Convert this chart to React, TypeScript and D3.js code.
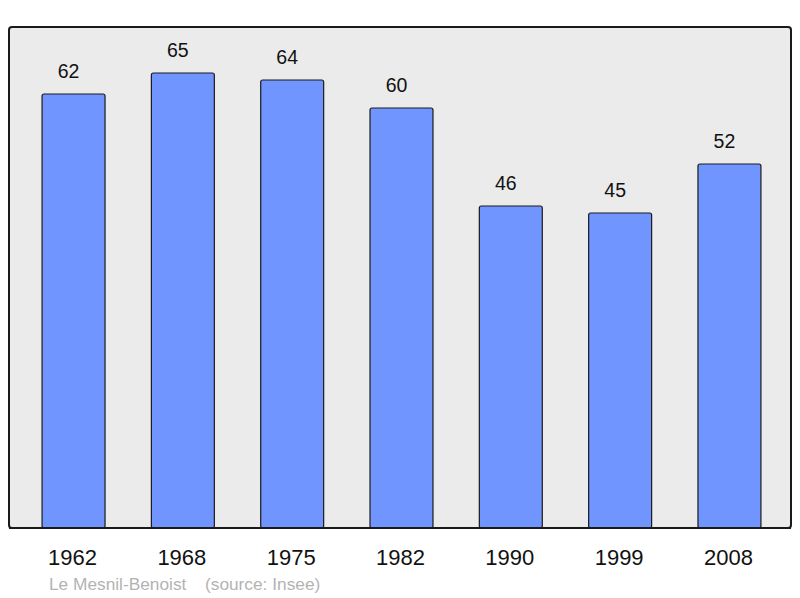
import React, { useRef, useEffect } from 'react';
import * as d3 from 'd3';

const years = ['1962', '1968', '1975', '1982', '1990', '1999', '2008'];
const population = [62, 65, 64, 60, 46, 45, 52];
const placeName = 'Le Mesnil-Benoist';
const sourceNote = '(source: Insee)';

const App = () => {
  const svgRef = useRef<SVGSVGElement>(null);

  useEffect(() => {
    const width = 800;
    const height = 598;
    const plot = { left: 9, right: 791, top: 27, bottom: 528 };

    const svg = d3.select(svgRef.current).attr('width', width).attr('height', height);
    svg.selectAll('*').remove();

    const xScale = d3
      .scaleBand()
      .domain(years)
      .range([12, 791])
      .paddingInner(0.424)
      .paddingOuter(0.275);

    // 7px per inhabitant, baseline at the bottom of the frame
    const yScale = d3
      .scaleLinear()
      .domain([0, (plot.bottom - plot.top) / 7])
      .range([plot.bottom, plot.top]);

    // background frame
    svg
      .append('rect')
      .attr('x', plot.left)
      .attr('y', plot.top)
      .attr('width', plot.right - plot.left)
      .attr('height', plot.bottom - plot.top)
      .attr('rx', 3)
      .attr('fill', '#ebebeb')
      .attr('stroke', '#1a1a1a')
      .attr('stroke-width', 2);

    const rows = years.map((y, i) => ({ year: y, value: population[i] }));

    // bars
    svg
      .append('g')
      .selectAll('rect')
      .data(rows)
      .enter()
      .append('rect')
      .attr('x', (d) => xScale(d.year)!)
      .attr('y', (d) => yScale(d.value))
      .attr('width', xScale.bandwidth())
      .attr('height', (d) => yScale(0) - yScale(d.value))
      .attr('rx', 2)
      .attr('fill', '#7095ff')
      .attr('stroke', '#1a1a1a')
      .attr('stroke-width', 1.2);

    // redraw the bottom border on top of the bars
    svg
      .append('line')
      .attr('x1', plot.left)
      .attr('x2', plot.right)
      .attr('y1', plot.bottom)
      .attr('y2', plot.bottom)
      .attr('stroke', '#1a1a1a')
      .attr('stroke-width', 2);

    // value labels (sit a little left of the bar centre in the original)
    svg
      .append('g')
      .selectAll('text')
      .data(rows)
      .enter()
      .append('text')
      .attr('x', (d) => xScale(d.year)! + xScale.bandwidth() / 2 - 5)
      .attr('y', (d) => yScale(d.value) - 16)
      .attr('text-anchor', 'middle')
      .attr('font-family', 'Liberation Sans, Arial, sans-serif')
      .attr('font-size', 19.5)
      .attr('fill', '#111')
      .text((d) => d.value);

    // year labels
    svg
      .append('g')
      .selectAll('text')
      .data(years)
      .enter()
      .append('text')
      .attr('x', (d) => xScale(d)! + xScale.bandwidth() / 2 - 1)
      .attr('y', 565)
      .attr('text-anchor', 'middle')
      .attr('font-family', 'Liberation Sans, Arial, sans-serif')
      .attr('font-size', 22)
      .attr('fill', '#111')
      .text((d) => d);

    // footer
    const footer = svg
      .append('text')
      .attr('y', 590)
      .attr('font-family', 'Liberation Sans, Arial, sans-serif')
      .attr('font-size', 17.3)
      .attr('fill', '#b3b3b3');
    footer.append('tspan').attr('x', 49).text(placeName);
    footer.append('tspan').attr('x', 205).text(sourceNote);
  }, []);

  return (
    <div style={{ position: 'absolute', left: 0, top: 0 }}>
      <svg ref={svgRef} style={{ display: 'block' }} />
    </div>
  );
};

export default App;
